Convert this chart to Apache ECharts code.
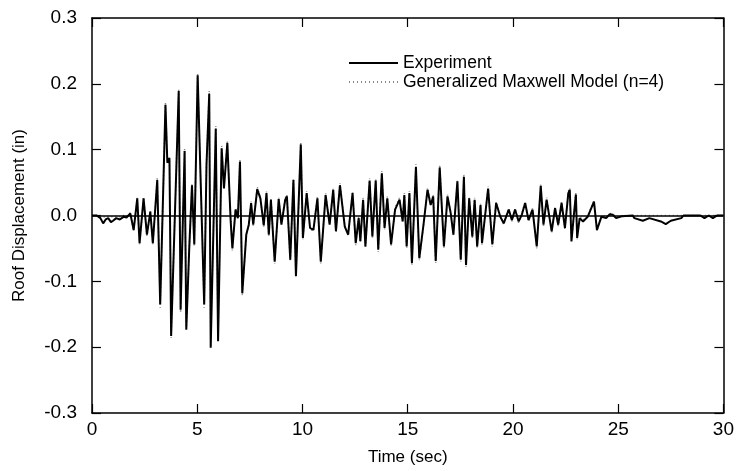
<!DOCTYPE html>
<html><head><meta charset="utf-8">
<script src="https://cdn.jsdelivr.net/npm/echarts@6/dist/echarts.min.js"></script>
<style>html,body{margin:0;padding:0;background:#fff}#c{width:737px;height:471px}</style>
</head><body><div id="c"></div>
<script>
// time (sec)
const times = [0.0,0.22,0.4,0.53,0.65,0.77,0.9,1.0,1.15,1.32,1.5,1.64,1.82,1.98,2.15,2.26,2.45,2.61,2.77,2.89,3.10,3.24,3.49,3.58,3.68,3.76,4.12,4.21,4.40,4.48,4.62,4.75,4.86,5.02,5.33,5.44,5.57,5.64,5.88,5.99,6.16,6.27,6.43,6.59,6.67,6.82,6.93,7.03,7.14,7.33,7.45,7.56,7.66,7.85,8.0,8.16,8.29,8.4,8.5,8.68,8.87,9.0,9.18,9.26,9.42,9.57,9.69,9.92,10.02,10.2,10.36,10.52,10.71,10.87,11.1,11.29,11.46,11.59,11.78,12.01,12.17,12.38,12.53,12.67,12.75,12.88,12.99,13.19,13.32,13.48,13.6,13.77,13.9,14.03,14.21,14.4,14.61,14.76,14.84,14.95,15.08,15.2,15.39,15.55,15.75,15.94,16.09,16.21,16.33,16.52,16.72,16.89,17.04,17.17,17.36,17.52,17.67,17.77,17.92,18.07,18.18,18.3,18.46,18.53,18.82,19.02,19.2,19.4,19.56,19.8,19.95,20.1,20.27,20.42,20.58,20.74,20.93,21.13,21.32,21.45,21.6,21.84,22.0,22.15,22.31,22.47,22.63,22.7,22.78,22.88,22.99,23.05,23.17,23.33,23.55,23.85,23.99,24.2,24.43,24.6,24.75,24.9,24.98,25.2,25.69,25.77,26.17,26.48,27.03,27.26,27.5,28.0,28.1,28.9,29.1,29.3,29.5,29.7,30.0];
// Experiment roof displacement (in)
const experiment = [0.0,0.0,-0.004,-0.012,-0.006,-0.004,-0.01,-0.008,-0.004,-0.006,-0.002,-0.003,0.003,-0.022,0.026,-0.042,0.026,-0.029,0.006,-0.042,0.054,-0.135,0.168,0.08,0.087,-0.183,0.189,-0.143,0.098,-0.173,-0.05,0.046,-0.044,0.213,-0.135,0.077,0.185,-0.201,0.132,-0.191,0.102,0.041,0.11,-0.009,-0.05,0.009,-0.004,0.082,-0.118,-0.029,-0.014,0.019,-0.014,0.04,0.026,-0.015,0.034,-0.029,0.024,-0.07,0.025,-0.014,0.024,0.029,-0.067,0.054,-0.092,0.108,-0.034,0.034,-0.019,-0.022,0.026,-0.07,0.031,-0.014,0.039,-0.024,0.046,-0.017,-0.029,0.034,-0.042,-0.004,-0.039,0.024,-0.047,0.053,-0.032,0.053,-0.052,0.064,-0.019,0.026,-0.044,0.009,0.024,-0.009,0.031,-0.047,0.034,-0.072,0.074,-0.065,-0.014,0.039,0.016,0.029,-0.069,0.073,-0.047,0.029,0.004,-0.029,0.052,-0.067,0.059,-0.075,0.026,-0.032,0.024,-0.047,0.016,-0.042,0.041,-0.044,0.019,-0.002,-0.012,0.009,-0.007,0.009,-0.009,0.001,0.019,-0.007,0.009,-0.047,0.045,-0.014,0.024,-0.024,0.011,-0.014,0.019,-0.019,0.034,0.039,-0.039,-0.004,0.032,-0.034,-0.004,-0.009,-0.002,0.021,-0.022,-0.002,-0.004,0.002,0.001,-0.004,-0.003,-0.001,0.0,-0.004,-0.008,-0.004,-0.009,-0.013,-0.008,-0.004,0.0,0.0,-0.004,0.0,-0.004,0.0,0.0];
// Generalized Maxwell Model (n=4) roof displacement (in)
const model = [0.0,0.0,-0.001,-0.003,-0.002,-0.001,-0.002,-0.002,-0.001,-0.002,0.0,-0.001,0.004,-0.024,0.028,-0.045,0.028,-0.031,0.008,-0.045,0.058,-0.14,0.172,0.085,0.09,-0.186,0.193,-0.148,0.102,-0.176,-0.052,0.049,-0.046,0.216,-0.14,0.08,0.19,-0.198,0.136,-0.188,0.106,0.044,0.114,-0.011,-0.053,0.011,-0.002,0.085,-0.122,-0.031,-0.012,0.021,-0.016,0.043,0.028,-0.017,0.037,-0.031,0.027,-0.073,0.028,-0.012,0.027,0.032,-0.07,0.057,-0.095,0.112,-0.036,0.037,-0.021,-0.024,0.029,-0.073,0.034,-0.012,0.042,-0.026,0.049,-0.015,-0.031,0.037,-0.045,-0.002,-0.041,0.027,-0.05,0.056,-0.034,0.056,-0.055,0.068,-0.021,0.029,-0.047,0.012,0.027,-0.011,0.034,-0.05,0.037,-0.076,0.078,-0.068,-0.016,0.042,0.018,0.032,-0.072,0.077,-0.05,0.032,0.006,-0.031,0.055,-0.07,0.062,-0.078,0.029,-0.034,0.027,-0.05,0.018,-0.045,0.044,-0.047,0.021,0.0,-0.014,0.011,-0.009,0.011,-0.011,0.003,0.021,-0.009,0.011,-0.05,0.048,-0.016,0.027,-0.026,0.013,-0.016,0.021,-0.021,0.037,0.042,-0.042,-0.002,0.035,-0.036,-0.002,-0.007,0.0,0.023,-0.024,0.0,-0.002,0.003,0.002,-0.002,-0.001,0.0,0.0,0.0,0.0,0.0,0.0,0.0,0.0,0.0,0.0,0.0,0.0,0.0,0.0,0.0,0.0];
const xTicks = [0,5,10,15,20,25,30];
const yTicks = [-0.3,-0.2,-0.1,0.0,0.1,0.2,0.3];

const FONT = '"Liberation Sans",Arial,sans-serif';
const pair = (xs, ys) => xs.map((x, i) => [x, ys[i]]);
const chart = echarts.init(document.getElementById('c'), null, {renderer: 'canvas'});
const tickCommon = {show: true, inside: true, length: 9, lineStyle: {color: '#000', width: 1.2}};
const lineCommon = {show: true, onZero: false, lineStyle: {color: '#000', width: 1.5}};
chart.setOption({
  animation: false,
  backgroundColor: '#fff',
  grid: {left: 92, right: 9, top: 18, bottom: 58, containLabel: false},
  legend: {
    show: true, orient: 'vertical', left: 343, top: 49, itemWidth: 49, itemHeight: 14, itemGap: 1,
    itemStyle: {opacity: 0},
    textStyle: {fontFamily: FONT, fontSize: 17.5, color: '#000'},
    data: ['Experiment', 'Generalized Maxwell Model (n=4)']
  },
  xAxis: [
    {type: 'value', min: xTicks[0], max: xTicks[xTicks.length - 1], interval: 5, position: 'bottom',
     name: 'Time (sec)', nameLocation: 'middle', nameGap: 36,
     nameTextStyle: {fontFamily: FONT, fontSize: 17, color: '#000'},
     axisLine: lineCommon, axisTick: tickCommon, splitLine: {show: false},
     axisLabel: {margin: 7, fontFamily: FONT, fontSize: 19, color: '#000'}},
    {type: 'value', min: xTicks[0], max: xTicks[xTicks.length - 1], interval: 5, position: 'top',
     axisLine: lineCommon, axisTick: tickCommon, splitLine: {show: false}, axisLabel: {show: false}}
  ],
  yAxis: [
    {type: 'value', min: yTicks[0], max: yTicks[yTicks.length - 1], interval: 0.1, position: 'left',
     name: 'Roof Displacement (in)', nameLocation: 'middle', nameGap: 64, nameRotate: 90,
     nameTextStyle: {fontFamily: FONT, fontSize: 17, color: '#000'},
     axisLine: lineCommon, axisTick: tickCommon, splitLine: {show: false},
     axisLabel: {margin: 15, fontFamily: FONT, fontSize: 19, color: '#000',
       formatter: v => (Math.abs(v) < 1e-9 ? 0 : v).toFixed(1)}},
    {type: 'value', min: yTicks[0], max: yTicks[yTicks.length - 1], interval: 0.1, position: 'right',
     axisLine: lineCommon, axisTick: tickCommon, splitLine: {show: false}, axisLabel: {show: false}}
  ],
  series: [
    {name: 'Generalized Maxwell Model (n=4)', type: 'line', data: pair(times, model),
     showSymbol: false, symbol: 'none', z: 2,
     lineStyle: {color: '#888', width: 1.5, type: [1, 3]}, itemStyle: {color: '#888'}},
    {name: 'Experiment', type: 'line', data: pair(times, experiment),
     showSymbol: false, symbol: 'none', z: 3,
     lineStyle: {color: '#000', width: 2}, itemStyle: {color: '#000'},
     markLine: {silent: true, symbol: 'none', label: {show: false},
       lineStyle: {color: '#000', width: 1.5, type: 'solid'}, data: [{yAxis: 0}]}}
  ]
});
</script></body></html>
